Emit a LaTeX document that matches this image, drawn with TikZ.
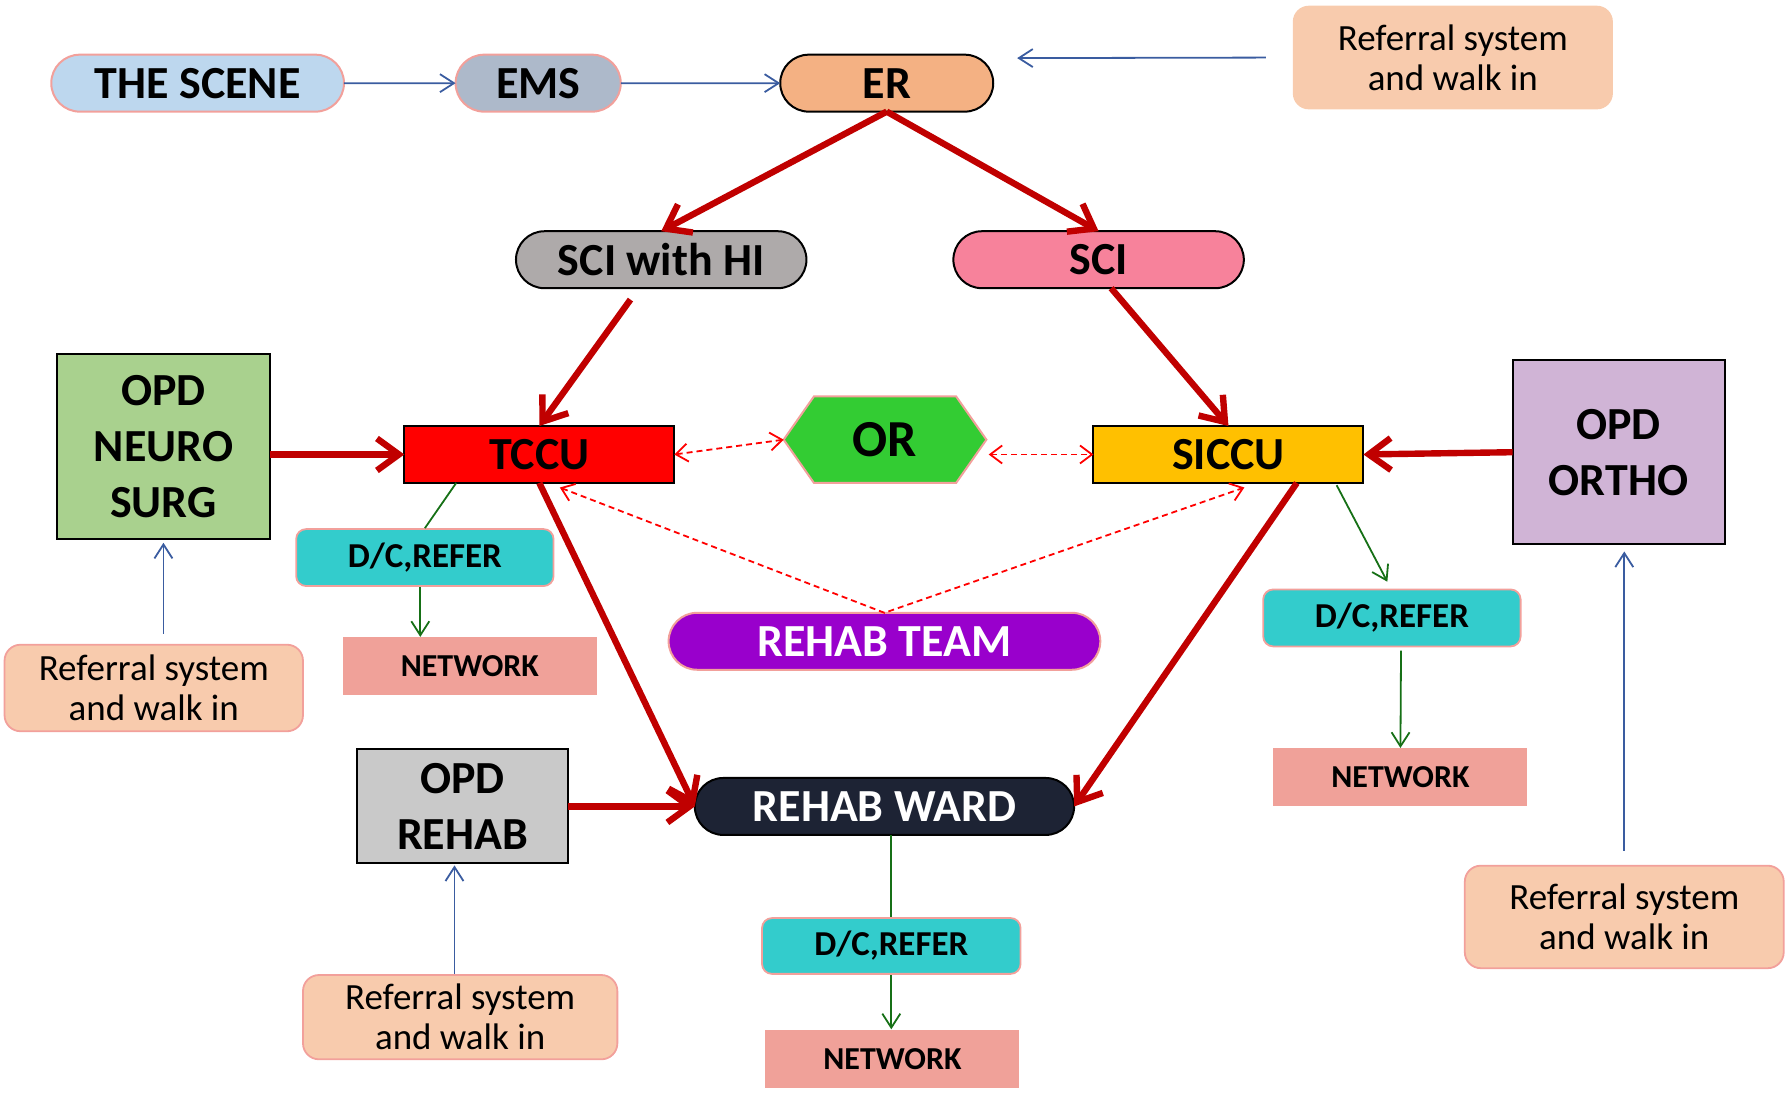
\documentclass[tikz,border=0pt]{standalone}
\usepackage{fontspec}
\setmainfont{Carlito}
\usetikzlibrary{arrows.meta,shapes.misc,shapes.symbols}

\definecolor{scenefill}{HTML}{BDD7EE}
\definecolor{emsfill}{HTML}{ADB9CA}
\definecolor{erfill}{HTML}{F4B183}
\definecolor{scihifill}{HTML}{AEAAAA}
\definecolor{scifill}{HTML}{F7829B}
\definecolor{neurofill}{HTML}{A9D18E}
\definecolor{orfill}{HTML}{33CC33}
\definecolor{siccufill}{HTML}{FFC000}
\definecolor{orthofill}{HTML}{D0B4D6}
\definecolor{dcfill}{HTML}{33CCCC}
\definecolor{netfill}{HTML}{F0A199}
\definecolor{reffill}{HTML}{F8CBAD}
\definecolor{teamfill}{HTML}{9900CC}
\definecolor{wardfill}{HTML}{1D2334}
\definecolor{rehabfill}{HTML}{C9C9C9}
\definecolor{pinkline}{HTML}{F2A09B}
\definecolor{darkred}{HTML}{C00000}
\definecolor{feedblue}{HTML}{3A5CA0}
\definecolor{outgreen}{HTML}{167016}

\begin{document}
\begin{tikzpicture}[x=0.57pt,y=-0.57pt,
  boxsize/.style 2 args={minimum width=#1*0.57pt,minimum height=#2*0.57pt},
  unit/.style={draw=black,line width=1pt,inner sep=0pt,outer sep=0pt,
    font=\fontsize{23}{28}\selectfont\bfseries},
  capsule/.style={unit,rounded rectangle},
  opd/.style={unit,align=center},
  dcbox/.style={draw=pinkline,line width=0.9pt,fill=dcfill,rounded corners=5pt,
    inner sep=0pt,boxsize={226}{50},font=\fontsize{17.5}{20}\selectfont\bfseries},
  netbox/.style={fill=netfill,inner sep=0pt,boxsize={223}{51},
    font=\fontsize{16}{18}\selectfont\bfseries},
  refbox/.style={draw=pinkline,line width=0.9pt,fill=reffill,rounded corners=8pt,
    align=center,inner sep=0pt,font=\fontsize{18.5}{20}\selectfont},
  main/.style={draw=darkred,line width=3.2pt,-{Straight Barb[length=11pt,width=16pt]}},
  feed/.style={draw=feedblue,line width=0.9pt,-{Straight Barb[length=7pt,width=9pt]}},
  outflow/.style={draw=outgreen,line width=0.9pt},
  link/.style={draw=red,line width=0.9pt,dash pattern=on 3pt off 2pt,
    {Straight Barb[length=6pt,width=9pt]}-{Straight Barb[length=6pt,width=9pt]}}]
  \useasboundingbox (0,0) rectangle (1568,962);

  % top row
  \node[capsule,fill=scenefill,draw=pinkline,boxsize={257}{50}] (scene) at (173.5,73) {THE SCENE};
  \node[capsule,fill=emsfill,draw=pinkline,boxsize={145}{50}] (ems) at (472.5,73) {EMS};
  \node[capsule,fill=erfill,boxsize={187}{50}] (er) at (778.5,73) {ER};
  \node[refbox,draw=none,boxsize={281}{91}] (refer) at (1275.5,50.5) {Referral system\\and walk in};
  \coordinate (erin) at (893,51);

  \node[capsule,fill=scihifill,boxsize={255}{50}] (scihi) at (580.5,228) {SCI with HI};
  \node[capsule,fill=scifill,boxsize={255}{50}] (sci) at (964.5,228) {SCI};

  % middle row
  \node[opd,fill=neurofill,boxsize={187}{162}] (neuro) at (143.5,392) {OPD\\NEURO\\SURG};
  \node[unit,fill=red,boxsize={237}{50}] (tccu) at (473.5,399) {TCCU};
  \node[unit,draw=pinkline,fill=orfill,signal,signal to=east and west,signal pointer angle=110,
    boxsize={178}{76},font=\fontsize{26}{30}\selectfont\bfseries] (or) at (777,386) {OR};
  \node[unit,fill=siccufill,boxsize={237}{50}] (siccu) at (1078.5,399) {SICCU};
  \node[opd,fill=orthofill,boxsize={186}{162}] (ortho) at (1421,397) {OPD\\ORTHO};

  \node[dcbox] (dcleft) at (373,489.5) {D/C,REFER};
  \node[netbox] (netleft) at (412.5,585) {NETWORK};
  \node[refbox,boxsize={262}{76}] (refneuro) at (135,604) {Referral system\\and walk in};
  \node[capsule,draw=pinkline,fill=teamfill,text=white,boxsize={379}{50}] (team) at (776.5,563) {REHAB TEAM};
  \node[dcbox] (dcright) at (1222,542.5) {D/C,REFER};
  \node[netbox] (netright) at (1229.5,682.5) {NETWORK};
  \node[refbox,boxsize={280}{90}] (refortho) at (1426,805) {Referral system\\and walk in};

  % bottom
  \node[opd,fill=rehabfill,boxsize={186}{100}] (rehab) at (406,708) {OPD\\REHAB};
  \node[refbox,boxsize={276}{74}] (refrehab) at (404,893) {Referral system\\and walk in};
  \node[capsule,fill=wardfill,text=white,boxsize={333}{50}] (ward) at (776.5,708) {REHAB WARD};
  \node[dcbox,boxsize={227}{49}] (dcward) at (782.5,830.5) {D/C,REFER};
  \node[netbox] (netward) at (783.5,929.5) {NETWORK};

  % connectors
  \draw[feed] (scene) -- (ems);
  \draw[feed] (ems) -- (er);
  \draw[feed,shorten <=13pt] (refer.west) -- (erin);

  \draw[main] (er.south) -- (scihi.north);
  \draw[main] (er.south) -- (sci.north);
  \draw[main] ([shift={(-27,10)}]scihi.south) -- (tccu.north);
  \draw[main] ([shift={(11,0)}]sci.south) -- (siccu.north);
  \draw[main] (neuro.east |- tccu.west) -- (tccu.west);
  \draw[main] (ortho.west) -- (siccu.east);
  \draw[main] (tccu.south) -- (ward.west);
  \draw[main] ([shift={(60,0)}]siccu.south) -- (ward.east);
  \draw[main] (rehab.east) -- (ward.west);

  \draw[link] (tccu.east) -- (or.west);
  \draw[link] ([shift={(2,13)}]or.east) -- (siccu.west);
  \draw[link] ([shift={(18,4)}]tccu.south) -- (team.north) -- ([shift={(14,4)}]siccu.south);

  \draw[outflow] ([shift={(-73,0)}]tccu.south) -- (dcleft.north);
  \draw[outflow,-{Straight Barb[length=7pt,width=9pt]}] ([shift={(-4,0)}]dcleft.south) -- ([shift={(-4,0)}]dcleft.south |- netleft.north);
  \draw[outflow,-{Straight Barb[length=7pt,width=9pt]}] ([shift={(95,2)}]siccu.south) -- ([shift={(-4,-6)}]dcright.north);
  \draw[outflow,-{Straight Barb[length=7pt,width=9pt]}] ([shift={(8,3)}]dcright.south) -- (netright.north);
  \draw[outflow] (dcward.north |- ward.south) -- (dcward.north);
  \draw[outflow,-{Straight Barb[length=7pt,width=9pt]}] (dcward.south) -- (dcward.south |- netward.north);

  \draw[feed,shorten <=5pt,shorten >=2pt] (refneuro.north -| neuro.south) -- (neuro.south);
  \draw[feed,shorten <=7pt,shorten >=3.5pt] (refortho.north) -- (refortho.north |- ortho.south);
  \draw[feed,shorten >=1pt] ([shift={(-5,0)}]refrehab.north) -- ([shift={(-5,0)}]refrehab.north |- rehab.south);
\end{tikzpicture}
\end{document}
